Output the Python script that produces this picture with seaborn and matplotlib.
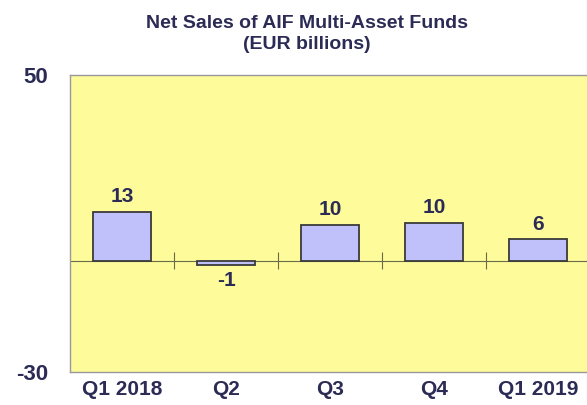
import seaborn as sns
import matplotlib.pyplot as plt

quarters = ['Q1 2018', 'Q2', 'Q3', 'Q4', 'Q1 2019']
net_sales = [13.2, -1.3, 9.7, 10.2, 5.7]
bar_labels = ['13', '-1', '10', '10', '6']
y_ticks = [-30, 50]

navy = '#2b2b55'
sns.set_style('white')
plt.rcParams['font.family'] = ['Liberation Sans', 'DejaVu Sans']
plt.rcParams['axes.unicode_minus'] = False

fig = plt.figure(figsize=(5.87, 4.05), dpi=100)
ax = fig.add_axes([70/587, 1 - 372/405, 520/587, 297/405])
ax.set_facecolor('#fdfb9a')

sns.barplot(x=quarters, y=net_sales, color='#c0c0fb', edgecolor='#3a3a3a',
            linewidth=1.3, width=0.55, saturation=1, ax=ax, zorder=3)

ax.axhline(0, color='#6b6b4a', lw=0.8, zorder=2)
# small separators on the zero line between categories
ax.vlines([0.5, 1.5, 2.5, 3.5], -2.2, 2.2, color='#6b6b4a', lw=0.8, zorder=2)

ax.bar_label(ax.containers[0], labels=bar_labels, padding=4,
             fontsize=15, fontweight='bold', color=navy)

ax.set_ylim(-30, 50)
ax.set_xlim(-0.5, 4.5)
ax.set_yticks(y_ticks)
ax.tick_params(axis='y', length=6, width=1, color='#999999', pad=10,
               labelsize=16, labelcolor=navy)
ax.tick_params(axis='x', length=0, pad=6, labelsize=15, labelcolor=navy)
for lab in ax.get_xticklabels() + ax.get_yticklabels():
    lab.set_fontweight('bold')
for s in ax.spines.values():
    s.set_color('#999999')
    s.set_linewidth(1)

fig.text(307/587, 1 - 15/405, 'Net Sales of AIF Multi-Asset Funds\n(EUR billions)',
         ha='center', va='top', fontsize=14, fontweight='bold', color=navy,
         linespacing=1.3)

fig.savefig('out.png', dpi=100)
